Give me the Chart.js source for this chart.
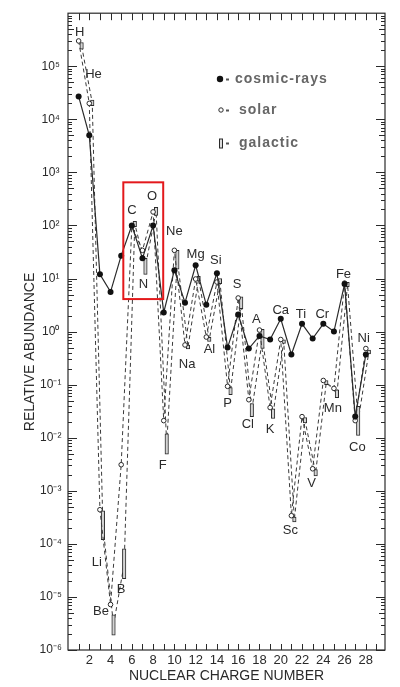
<!DOCTYPE html>
<html>
<head>
<meta charset="utf-8">
<title>Relative abundance</title>
<script src="https://cdn.jsdelivr.net/npm/chart.js@4/dist/chart.umd.min.js"></script>
<style>
  html, body { margin: 0; padding: 0; background: #fff; }
  canvas { display: block; }
</style>
</head>
<body>
<canvas id="abundanceChart" width="400" height="687"></canvas>
<script>
const charge = [1, 2, 3, 4, 5, 6, 7, 8, 9, 10, 11, 12, 13, 14, 15, 16, 17, 18, 19, 20, 21, 22, 23, 24, 25, 26, 27, 28];
const cosmicRays = [2.7e4, 5.0e3, 12, 5.6, 27, 100, 24, 100, 2.3, 14.4, 3.5, 17.8, 3.2, 12.6, 0.5, 2.1, 0.48, 0.83, 0.71, 1.74, 0.37, 1.4, 0.74, 1.4, 1.0, 7.9, 0.025, 0.37];
const solar = [3.0e5, 2.0e4, 4.4e-4, 7.2e-6, 3.1e-3, 95, 34, 180, 0.021, 34, 0.56, 9.8, 0.79, 8.6, 0.093, 4.3, 0.052, 1.07, 0.037, 0.71, 3.4e-4, 0.025, 2.6e-3, 0.12, 0.085, 8.2, 0.021, 0.48];
const galacticLow = [2.1e5, 1.8e4, 1.2e-4, 1.9e-6, 2.2e-5, 95, 12, 155, 0.0049, 15, 0.47, 9, 0.65, 8, 0.065, 2.7, 0.025, 0.48, 0.023, 0.6, 2.6e-4, 0.019, 1.9e-3, 0.10, 0.057, 7, 0.011, 0.38];
const galacticHigh = [2.8e5, 2.3e4, 4.2e-4, 4.6e-6, 8.1e-5, 120, 24, 220, 0.0118, 34, 0.56, 11, 0.78, 10, 0.088, 4.5, 0.044, 1.1, 0.035, 0.7, 3.2e-4, 0.024, 2.5e-3, 0.12, 0.08, 8.5, 0.039, 0.45];

const elementNames = ['H', 'He', 'Li', 'Be', 'B', 'C', 'N', 'O', 'F', 'Ne', 'Na', 'Mg', 'Al', 'Si', 'P', 'S', 'Cl', 'A', 'K', 'Ca', 'Sc', 'Ti', 'V', 'Cr', 'Mn', 'Fe', 'Co', 'Ni'];
const nameZ = [1.1, 2.4, 2.7, 3.1, 5.0, 6.0, 7.1, 7.9, 8.9, 10.0, 11.2, 12.0, 13.3, 13.9, 15.0, 15.9, 16.9, 17.7, 19.0, 20.0, 20.9, 21.9, 22.9, 23.9, 24.9, 25.9, 27.2, 27.8];
const nameAbundance = [4.4e5, 7.1e4, 4.5e-5, 5.4e-6, 1.4e-5, 190, 7.6, 355, 3.0e-3, 78, 0.24, 29, 0.46, 22, 0.045, 7.6, 0.018, 1.7, 0.0145, 2.5, 1.8e-4, 2.1, 1.35e-3, 2.1, 0.035, 12, 6.6e-3, 0.74];

const xTicks = [2, 4, 6, 8, 10, 12, 14, 16, 18, 20, 22, 24, 26, 28];
const yTicks = [1e-6, 1e-5, 1e-4, 1e-3, 1e-2, 1e-1, 1, 10, 100, 1e3, 1e4, 1e5];
const yTickLabels = ['10⁻⁶', '10⁻⁵', '10⁻⁴', '10⁻³', '10⁻²', '10⁻¹', '10⁰', '10¹', '10²', '10³', '10⁴', '10⁵'];

// C-N-O group highlighted in red
const boxZ = [5.2, 8.95];
const boxAbundance = [4.1, 650];

const GAL_SHIFT = 0.28;
const INK = '#2a2a2a';
const FONT = '"Liberation Sans", Arial, sans-serif';

const extras = {
  id: 'extras',
  beforeDatasetsDraw(chart) {
    const {ctx, chartArea: a, scales: {x, y}} = chart;
    ctx.save();
    ctx.strokeStyle = INK;
    ctx.lineWidth = 1.2;
    ctx.strokeRect(a.left, a.top, a.right - a.left, a.bottom - a.top);
    ctx.lineWidth = 1;
    ctx.beginPath();
    for (let z = 1; z <= 29; z++) {
      const px = Math.round(x.getPixelForValue(z)) + 0.5;
      ctx.moveTo(px, a.bottom); ctx.lineTo(px, a.bottom - 6);
      ctx.moveTo(px, a.top); ctx.lineTo(px, a.top + 7);
    }
    for (let e = -6; e < 6; e++) {
      for (let m = 1; m < 10; m++) {
        const py = Math.round(y.getPixelForValue(m * Math.pow(10, e))) + 0.5;
        const len = m === 1 ? 9 : (m === 5 ? 6 : 4);
        ctx.moveTo(a.left, py); ctx.lineTo(a.left + len, py);
        ctx.moveTo(a.right, py); ctx.lineTo(a.right - len, py);
      }
    }
    ctx.stroke();

    ctx.translate(30, 352);
    ctx.rotate(-Math.PI / 2);
    ctx.fillStyle = INK;
    ctx.font = '14px ' + FONT;
    ctx.textAlign = 'center';
    ctx.textBaseline = 'middle';
    ctx.fillText('RELATIVE ABUNDANCE', 0, 0);
    ctx.restore();
  },
  afterDatasetsDraw(chart) {
    const {ctx, chartArea: a, scales: {x, y}} = chart;
    ctx.save();
    ctx.fillStyle = INK;
    ctx.font = '13px ' + FONT;
    ctx.textAlign = 'center';
    ctx.textBaseline = 'middle';
    elementNames.forEach((n, i) => {
      ctx.fillText(n, x.getPixelForValue(nameZ[i]), y.getPixelForValue(nameAbundance[i]));
    });

    // red box
    const bx0 = x.getPixelForValue(boxZ[0]), bx1 = x.getPixelForValue(boxZ[1]);
    const by0 = y.getPixelForValue(boxAbundance[1]), by1 = y.getPixelForValue(boxAbundance[0]);
    ctx.strokeStyle = '#e3191c';
    ctx.lineWidth = 2;
    ctx.strokeRect(bx0, by0, bx1 - bx0, by1 - by0);

    // legend
    const lx = a.left + 152;
    const rows = [79, 110, 143];
    ctx.strokeStyle = INK;
    ctx.fillStyle = '#111';
    ctx.lineWidth = 1;
    ctx.beginPath(); ctx.arc(lx, rows[0], 3.2, 0, Math.PI * 2); ctx.fill();
    ctx.fillStyle = '#fff';
    ctx.beginPath(); ctx.arc(lx + 1, rows[1], 2.2, 0, Math.PI * 2); ctx.fill(); ctx.stroke();
    ctx.fillStyle = '#ddd';
    ctx.fillRect(lx - 0.5, rows[2] - 4, 3, 9); ctx.strokeRect(lx - 0.5, rows[2] - 4, 3, 9);
    ctx.fillStyle = '#555';
    rows.forEach(r => ctx.fillRect(lx + 6, r - 0.5, 3, 2));
    ctx.fillStyle = '#666';
    ctx.font = 'bold 14px ' + FONT;
    ctx.textAlign = 'left';
    ctx.letterSpacing = '1px';
    ctx.fillText('cosmic-rays', lx + 15, rows[0]);
    ctx.fillText('solar', lx + 19, rows[1]);
    ctx.fillText('galactic', lx + 19, rows[2]);
    ctx.restore();
  }
};

const chartCtx = document.getElementById('abundanceChart').getContext('2d');
const chart = new Chart(chartCtx, {
  type: 'line',
  data: {
    datasets: [{
      label: 'cosmic-rays',
      data: charge.map((z, i) => ({x: z, y: cosmicRays[i]})),
      borderColor: INK,
      borderWidth: 1.2,
      pointRadius: 3,
      pointBackgroundColor: '#111',
      pointBorderWidth: 0,
      order: 0
    }, {
      label: 'solar',
      data: charge.map((z, i) => ({x: z, y: solar[i]})),
      borderColor: '#3a3a3a',
      borderWidth: 1,
      borderDash: [4, 3],
      pointRadius: 2.3,
      pointBackgroundColor: '#fff',
      pointBorderColor: INK,
      pointBorderWidth: 1,
      order: 1
    }, {
      type: 'bar',
      label: 'galactic',
      data: charge.map((z, i) => ({x: z + GAL_SHIFT, y: [galacticLow[i], galacticHigh[i]]})),
      backgroundColor: '#d4d4d4',
      borderColor: INK,
      borderWidth: 1,
      borderSkipped: false,
      barThickness: 3.5,
      order: 2
    }, {
      label: 'galactic line',
      data: charge.map((z, i) => ({x: z + GAL_SHIFT, y: Math.sqrt(galacticLow[i] * galacticHigh[i])})),
      borderColor: '#3a3a3a',
      borderWidth: 1,
      borderDash: [4, 3],
      pointRadius: 0,
      order: 3
    }]
  },
  options: {
    responsive: false,
    animation: false,
    layout: { padding: { top: 9, right: 15, left: 0, bottom: 0 } },
    plugins: {
      legend: { display: false },
      tooltip: { enabled: false }
    },
    scales: {
      x: {
        type: 'linear',
        min: 0,
        max: 29.8,
        offset: false,
        afterBuildTicks: s => { s.ticks = xTicks.map(v => ({value: v})); },
        afterFit: s => { s.height = 37; },
        grid: { display: false, drawTicks: false },
        border: { display: false },
        ticks: { autoSkip: false, maxRotation: 0, padding: 3, color: INK, font: { family: FONT, size: 13 } },
        title: { display: true, text: 'NUCLEAR CHARGE NUMBER', color: INK, padding: { top: 0, bottom: 2 }, font: { family: FONT, size: 14 } }
      },
      y: {
        type: 'logarithmic',
        min: 1e-6,
        max: 1e6,
        afterBuildTicks: s => { s.ticks = yTicks.map(v => ({value: v})); },
        afterFit: s => { s.width = 68; },
        grid: { display: false, drawTicks: false },
        border: { display: false },
        ticks: {
          autoSkip: false,
          crossAlign: 'center',
          padding: 6,
          color: INK,
          font: { family: FONT, size: 12 },
          callback: (v, i) => yTickLabels[i]
        }
      }
    }
  },
  plugins: [extras]
});
</script>
</body>
</html>
